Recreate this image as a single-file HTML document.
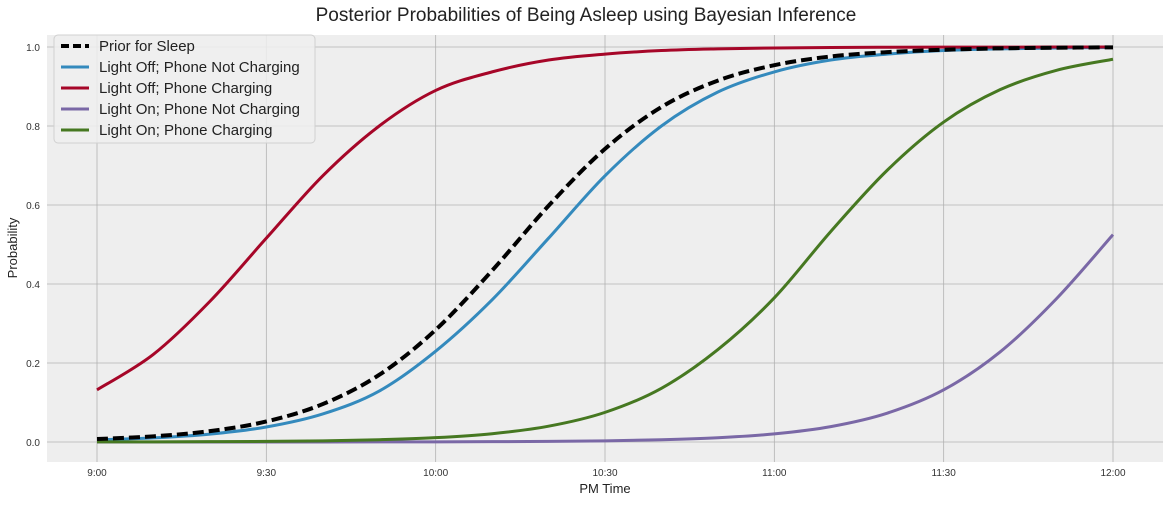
<!DOCTYPE html>
<html><head><meta charset="utf-8"><style>
body{margin:0;background:#fff;font-family:"Liberation Sans",sans-serif}
svg text{font-family:"Liberation Sans",sans-serif}
</style></head><body>
<svg id="chart" width="1173" height="503">
<rect x="47" y="35" width="1116" height="427" fill="#eeeeee"/>
<g id="grid"></g><g id="ticks"></g><g id="lines"></g>
<text x="586" y="21" text-anchor="middle" font-size="19" fill="#222">Posterior Probabilities of Being Asleep using Bayesian Inference</text>
<text x="605" y="493" text-anchor="middle" font-size="13" fill="#222">PM Time</text>
<text x="17" y="248" text-anchor="middle" font-size="13" fill="#222" transform="rotate(-90 17 248)">Probability</text>
<g id="legend"></g>
</svg>
<script>
const minutes=[0,10,20,30,40,50,60,70,80,90,100,110,120,130,140,150,160,170,180];
const prior=[0.0075,0.0144,0.0275,0.052,0.096,0.170,0.284,0.434,0.598,0.742,0.848,0.915,0.954,0.976,0.987,0.993,0.9966,0.9982,0.9991];
const offNotCharging=[0.0054,0.0104,0.020,0.038,0.071,0.129,0.230,0.360,0.516,0.674,0.800,0.886,0.937,0.967,0.982,0.991,0.9952,0.9975,0.9987];
const offCharging=[0.132,0.222,0.356,0.516,0.674,0.800,0.890,0.937,0.967,0.982,0.991,0.9952,0.9975,0.9987,0.9993,0.9997,0.9998,0.9999,0.9999];
const onNotCharging=[0,0,0,0.0001,0.0001,0.0002,0.0004,0.0008,0.0015,0.0029,0.0056,0.0108,0.0206,0.039,0.073,0.132,0.228,0.363,0.525];
const onCharging=[0.0002,0.0004,0.0008,0.0015,0.003,0.0058,0.011,0.021,0.040,0.075,0.136,0.234,0.365,0.533,0.688,0.810,0.892,0.941,0.969];
const xTickLabels=["9:00","9:30","10:00","10:30","11:00","11:30","12:00"];
const xTickMinutes=[0,30,60,90,120,150,180];
const yTicks=[0,0.2,0.4,0.6,0.8,1.0];
const legendLabels=["Prior for Sleep","Light Off; Phone Not Charging","Light Off; Phone Charging","Light On; Phone Not Charging","Light On; Phone Charging"];
const NS="http://www.w3.org/2000/svg";
const xs=m=>97+m*(1113-97)/180;
const ys=v=>442-v*(442-47);
function mk(tag,attrs,parent){const e=document.createElementNS(NS,tag);for(const k in attrs)e.setAttribute(k,attrs[k]);parent.appendChild(e);return e;}
const grid=document.getElementById('grid'),ticks=document.getElementById('ticks'),lines=document.getElementById('lines'),legend=document.getElementById('legend');
xTickMinutes.forEach((m,i)=>{
 const g=mk('line',{x1:xs(m),x2:xs(m),y1:35,y2:462,stroke:'#b2b2b2','stroke-width':0.8},grid);
 
 
 const t=mk('text',{x:xs(m),y:476,'text-anchor':'middle','font-size':10,fill:'#333'},ticks);
 t.textContent=xTickLabels[i];
 
 
});
yTicks.forEach(v=>{
 const g=mk('line',{x1:47,x2:1163,y1:ys(v),y2:ys(v),stroke:'#b2b2b2','stroke-width':0.8},grid);
 
 
 const t=mk('text',{x:40,y:ys(v)+4,'text-anchor':'end','font-size':10,fill:'#333'},ticks);
 t.textContent=v.toFixed(1);
 
 
});
function pathFor(vals){
 const p=minutes.map((m,i)=>[xs(m),ys(vals[i])]);
 let d=`M${p[0][0]},${p[0][1]}`;
 for(let i=0;i<p.length-1;i++){
  const p0=p[Math.max(i-1,0)],p1=p[i],p2=p[i+1],p3=p[Math.min(i+2,p.length-1)];
  const c1=[p1[0]+(p2[0]-p0[0])/6,p1[1]+(p2[1]-p0[1])/6],c2=[p2[0]-(p3[0]-p1[0])/6,p2[1]-(p3[1]-p1[1])/6];
  d+=`C${c1[0]},${c1[1]} ${c2[0]},${c2[1]} ${p2[0]},${p2[1]}`;
 }
 return d;
}
const series=[[offNotCharging,'#348ABD',false,'line-off-not-charging'],[offCharging,'#A60628',false,'line-off-charging'],[onNotCharging,'#7A68A6',false,'line-on-not-charging'],[onCharging,'#467821',false,'line-on-charging'],[prior,'#000',true,'line-prior']];
series.forEach(s=>{
 const e=mk('path',{d:pathFor(s[0]),fill:'none',stroke:s[1],'stroke-width':s[2]?4:3,'stroke-dasharray':s[2]?'11,5':'none'},lines);
 
 
});
const lr=mk('rect',{x:54,y:35,width:261,height:108,rx:4,fill:'#eeeeee','fill-opacity':0.85,stroke:'#d0d0d0'},legend);


const lcol=['#000','#348ABD','#A60628','#7A68A6','#467821'];
legendLabels.forEach((l,i)=>{
 const y=46+i*21;
 const ln=mk('line',{x1:61,x2:89,y1:y,y2:y,stroke:lcol[i],'stroke-width':i==0?4:3,'stroke-dasharray':i==0?'8,4':'none'},legend);
 
 
 const t=mk('text',{x:99,y:y+5,'font-size':15,fill:'#222'},legend);
 t.textContent=l;
 
 
});
</script>
</body></html>
